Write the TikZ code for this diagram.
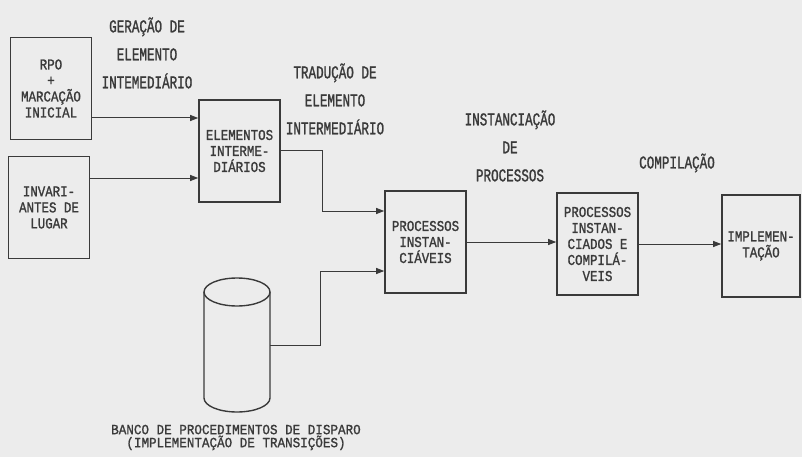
\documentclass[tikz,border=0pt]{standalone}
\usepackage{fontspec}
\setmonofont[FakeStretch=0.7,FakeBold=1.2]{Liberation Mono}
\newfontfamily\boxfont[FakeStretch=0.83,FakeBold=1.2]{Liberation Mono}
\newfontfamily\bancofont[FakeStretch=0.9,FakeBold=1.2]{Liberation Mono}
\usetikzlibrary{arrows.meta}
\definecolor{scanInk}{HTML}{3A3A3A}
\definecolor{scanPaper}{HTML}{ECECEC}
\tikzset{
  every picture/.style={font=\ttfamily, text=scanInk},
  flow box/.style={draw=scanInk, line width=1.6pt, align=center,
    minimum width=81pt, minimum height=102pt, inner sep=0pt,
    font=\boxfont\fontsize{15}{16}\selectfont},
  flow label/.style={align=center, font=\ttfamily\fontsize{18}{28}\selectfont},
  flow arrow/.style={-{Triangle[length=8pt,width=6pt]},
    draw=scanInk, line width=1pt},
  flow drum/.style={draw=scanInk, line width=1.4pt}
}
\begin{document}
\begin{tikzpicture}[x=1pt,y=-1pt]
  \fill[scanPaper] (0,0) rectangle (802,457);
  \useasboundingbox (0,0) rectangle (802,457);
  \node[flow box] (rpo) at (51,88.5) {RPO\\+\\MARCAÇÃO\\INICIAL};
  \node[flow box] (inv) at (49,207.5) {INVARI-\\ANTES DE\\LUGAR};
  \node[flow box] (elem) at (239.5,151) {ELEMENTOS\\INTERME-\\DIÁRIOS};
  \node[flow box] (pinst) at (425.5,242) {PROCESSOS\\INSTAN-\\CIÁVEIS};
  \node[flow box] (pcomp) at (597.5,244) {PROCESSOS\\INSTAN-\\CIADOS E\\COMPILÁ-\\VEIS};
  \node[flow box, minimum width=78pt] (impl) at (761,246) {IMPLEMEN-\\TAÇÃO};
  \node[flow label] (gera) at (147,53) {GERAÇÃO DE\\ELEMENTO\\INTEMEDIÁRIO};
  \node[flow label] (trad) at (335,99) {TRADUÇÃO DE\\ELEMENTO\\INTERMEDIÁRIO};
  \node[flow label] (inst) at (510,146) {INSTANCIAÇÃO\\DE\\PROCESSOS};
  \node[flow label] (comp) at (677,163) {COMPILAÇÃO};
  \draw[flow drum] (204,292) -- (204,398)
    arc[start angle=180, end angle=360, x radius=33pt, y radius=14pt] -- (270,292);
  \draw[flow drum] (237,292) ellipse[x radius=33pt, y radius=14pt];
  \coordinate (banco) at (270,345);
  \node[align=center, font=\bancofont\fontsize{14}{13}\selectfont] (bancolbl) at (236,437.5)
    {BANCO DE PROCEDIMENTOS DE DISPARO\\(IMPLEMENTAÇÃO DE TRANSIÇÕES)};
  \draw[flow arrow] (rpo.east |- 0,118) -- (elem.west |- 0,118);
  \draw[flow arrow] (inv.east |- 0,178) -- (elem.west |- 0,178);
  \draw[flow arrow] (elem.east) -| (322,211) -- (pinst.west |- 0,211);
  \draw[flow arrow] (banco) -| (320,271) -- (pinst.west |- 0,271);
  \draw[flow arrow] (pinst.east) -- (pinst.east -| pcomp.west);
  \draw[flow arrow] (pcomp.east) -- (pcomp.east -| impl.west);
\end{tikzpicture}
\end{document}
